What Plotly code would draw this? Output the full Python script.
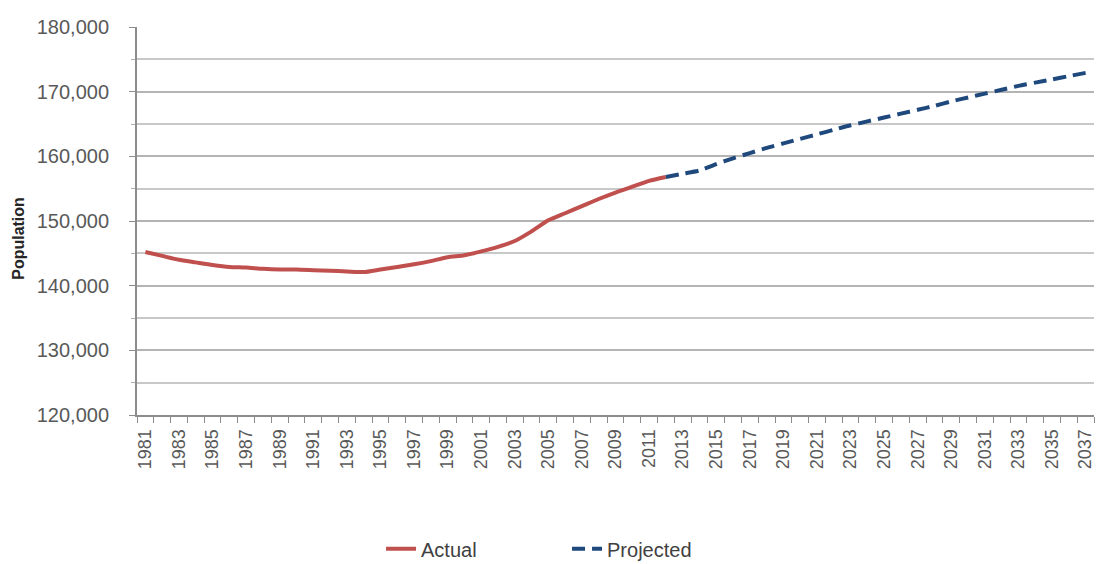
import plotly.graph_objects as go

actual_years = list(range(1981, 2013))
actual_values = [145200, 144600, 144000, 143600, 143200, 142900, 142800, 142600,
                 142500, 142500, 142400, 142300, 142200, 142100, 142500, 142900,
                 143300, 143800, 144400, 144700, 145300, 146000, 146900, 148400,
                 150100, 151200, 152300, 153400, 154400, 155300, 156200, 156800]

proj_years = list(range(2012, 2038))
proj_values = [156800, 157300, 157800, 158800, 159700, 160500, 161300, 162000,
               162700, 163400, 164100, 164800, 165400, 166000, 166600, 167200,
               167800, 168500, 169100, 169700, 170300, 170900, 171400, 171900,
               172400, 172900]

tick_years = list(range(1981, 2038, 2))
y_ticks = [120000, 130000, 140000, 150000, 160000, 170000, 180000]
y_labels = [f"{v:,}" for v in y_ticks]

fig = go.Figure()
fig.add_trace(go.Scatter(x=actual_years, y=actual_values, name="Actual", mode="lines",
                         line=dict(color="#c0504d", width=4, shape="spline", smoothing=0.6)))
fig.add_trace(go.Scatter(x=proj_years, y=proj_values, name="Projected", mode="lines",
                         line=dict(color="#1f497d", width=4, dash="13px,7px",
                                   shape="spline", smoothing=0.6)))

fig.update_layout(
    width=1098, height=556,
    margin=dict(l=129, r=12, t=19, b=149, autoexpand=False),
    paper_bgcolor="white", plot_bgcolor="white",
    font=dict(family="Liberation Sans, Arial", color="#595959", size=16),
    showlegend=True,
    legend=dict(orientation="h", x=0.255, xanchor="left", y=-0.345, yanchor="middle",
                font=dict(size=20, color="#404040"), traceorder="normal",
                entrywidth=141, entrywidthmode="pixels"),
    annotations=[dict(text="<b>Population</b>", xref="paper", yref="paper",
                      x=-0.124, y=0.455, xanchor="center", yanchor="middle",
                      textangle=-90, showarrow=False,
                      font=dict(size=16, color="#262626"))],
)
fig.update_xaxes(
    range=[1980.5, 2037.5], automargin=False,
    tickmode="array", tickvals=tick_years, ticktext=[str(y) for y in tick_years],
    tickangle=-90, tickfont=dict(size=18, color="#595959"),
    showgrid=False, zeroline=False,
    showline=True, linecolor="#8c8c8c", linewidth=2,
    ticks="", ticklabelstandoff=5,
    minor=dict(tickmode="linear", tick0=0.5, dtick=1, ticks="outside",
               ticklen=6, tickcolor="#8c8c8c", tickwidth=1, showgrid=False),
)
fig.update_yaxes(
    range=[120000, 180000], automargin=False,
    tickmode="array", tickvals=y_ticks, ticktext=y_labels,
    tickfont=dict(size=20, color="#595959"),
    showgrid=True, gridcolor="#b4b4b4", gridwidth=2,
    zeroline=False, showline=True, linecolor="#8c8c8c", linewidth=2,
    ticks="outside", ticklen=6, tickcolor="#8c8c8c", ticklabelstandoff=16,
    minor=dict(tickmode="linear", tick0=125000, dtick=10000, showgrid=True,
               gridcolor="#c8c8c8", gridwidth=1.5, ticks="outside", ticklen=4,
               tickcolor="#b0b0b0"),
)

fig.write_html("out.html")
